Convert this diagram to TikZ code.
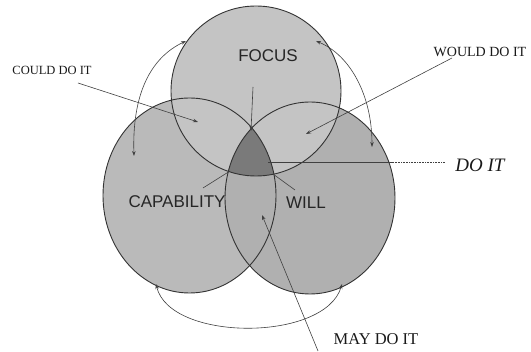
\documentclass[tikz,border=0pt]{standalone}
\usepackage{fontspec}
\setmainfont{Liberation Serif}
\setsansfont{Liberation Sans}
\usetikzlibrary{arrows.meta}

\begin{document}
\begin{tikzpicture}[
  x=1pt, y=-1pt,
  ring/.style={draw=black!80, line width=0.9pt},
  focsize/.style={x radius=85pt, y radius=85pt},
  capsize/.style={x radius=86.5pt, y radius=97.5pt},
  wilsize/.style={x radius=85pt, y radius=96pt},
  zone/.style={font=\sffamily\fontsize{17}{17}\selectfont, text=black!85, inner sep=0pt},
  remark/.style={text=black!90, inner sep=0pt},
  pointer/.style={draw=black!75, line width=0.6pt, -{Stealth[length=5pt,width=3.5pt]}},
  plainline/.style={draw=black!75, line width=0.6pt},
  swing/.style={draw=black!75, line width=0.6pt,
                {Stealth[length=5pt,width=3.5pt]}-{Stealth[length=5pt,width=3.5pt]}}
]
\useasboundingbox (0,0) rectangle (531,352);
\coordinate (fc) at (256,91);
\coordinate (cc) at (189.5,195.5);
\coordinate (wc) at (310,198);

% shaded areas
\fill[black!27] (cc) ellipse [capsize];
\fill[black!31] (wc) ellipse [wilsize];
\fill[black!23] (fc) ellipse [focsize];
\begin{scope}
  \clip (cc) ellipse [capsize];
  \clip (wc) ellipse [wilsize];
  \fill[black!52] (fc) ellipse [focsize];
\end{scope}
\draw[ring] (cc) ellipse [capsize];
\draw[ring] (wc) ellipse [wilsize];
\draw[ring] (fc) ellipse [focsize];

% labels
\node[zone] (focus) at (268,56) {FOCUS};
\node[zone] (capab) at (177,202) {CAPABILITY};
\node[zone] (will) at (306,203) {WILL};
\node[remark, font=\fontsize{12.5}{12.5}\selectfont] (could) at (52,70) {COULD DO IT};
\node[remark, font=\fontsize{14}{14}\selectfont] (would) at (480,52) {WOULD DO IT};
\node[remark, font=\fontsize{16.5}{16.5}\selectfont] (may) at (376,339) {MAY DO IT};
\node[remark, font=\itshape\fontsize{19}{19}\selectfont] (doit) at (480,165) {DO IT};

% points on the figure
\coordinate (apex) at (251,131);
\coordinate (lcorner) at (230,171);
\coordinate (rcorner) at (273,174);
\coordinate (couldfoot) at (78,83);
\coordinate (couldtip) at (198,122);
\coordinate (wouldfoot) at (452,58);
\coordinate (wouldtip) at (306,134);
\coordinate (mayfoot) at (318,351);
\coordinate (maytip) at (262,215);
\coordinate (focfoot) at (253,87);
\coordinate (capfoot) at (203,188);
\coordinate (wilfoot) at (295,190);
\coordinate (doitin) at (268,162);
\coordinate (doitedge) at (393,162);
\coordinate (doitend) at (445,162);

% pointers
\draw[pointer] (couldfoot) -- (couldtip);
\draw[pointer] (wouldfoot) -- (wouldtip);
\draw[pointer] (mayfoot) -- (maytip);
\draw[pointer] (focfoot) -- (apex);
\draw[plainline] (capfoot) -- (lcorner);
\draw[plainline] (wilfoot) -- (rcorner);
\draw[plainline] (doitin) -- (doitedge);
\draw[plainline, densely dotted] (doitedge) -- (doitend);

% linking arcs
\draw[swing] (134,156) .. controls (132,95) and (150,58) .. (186,41);
\draw[swing] (316,41) .. controls (350,55) and (372,95) .. (372,147);
\draw[swing] (156,284) .. controls (170,342) and (325,342) .. (342,284);
\end{tikzpicture}
\end{document}
